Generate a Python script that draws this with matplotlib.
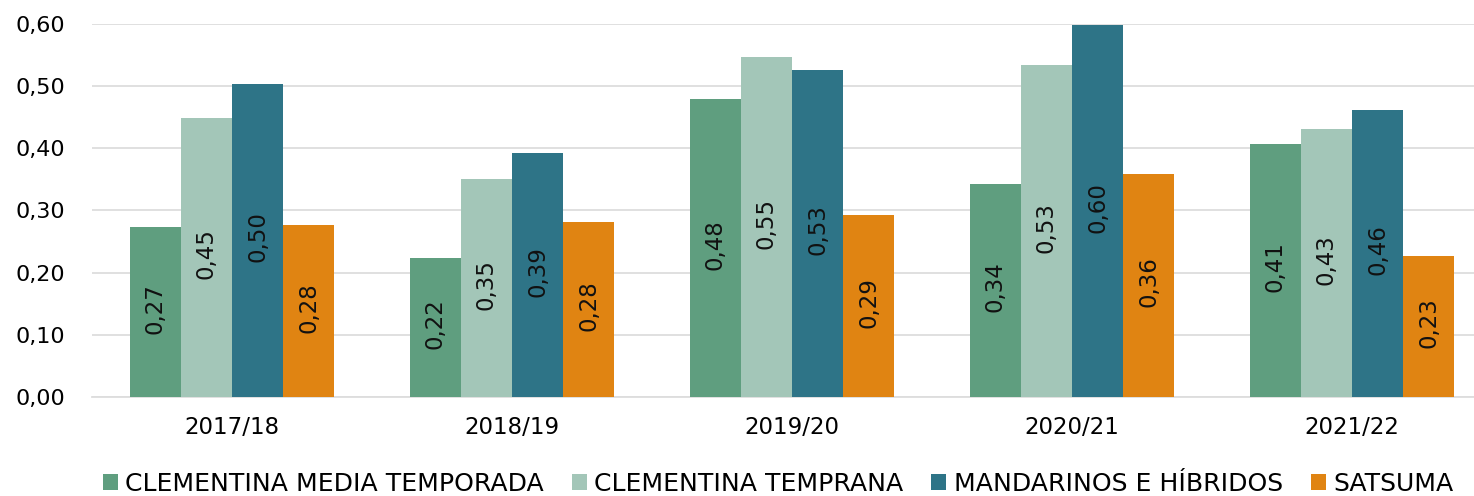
import matplotlib
matplotlib.use("Agg")
import matplotlib.pyplot as plt
import numpy as np

categories = ["2017/18", "2018/19", "2019/20", "2020/21", "2021/22"]
series_names = ["CLEMENTINA MEDIA TEMPORADA", "CLEMENTINA TEMPRANA",
                "MANDARINOS E HÍBRIDOS", "SATSUMA"]
clementina_media = [0.273, 0.223, 0.479, 0.343, 0.407]
clementina_temprana = [0.449, 0.351, 0.547, 0.534, 0.431]
mandarinos = [0.503, 0.392, 0.526, 0.598, 0.462]
satsuma = [0.277, 0.282, 0.292, 0.358, 0.227]
colors = ["#5F9E7F", "#A3C6B8", "#2E7487", "#E08412"]
yticks = [0.0, 0.1, 0.2, 0.3, 0.4, 0.5, 0.6]

plt.rcParams['font.family'] = ['DejaVu Sans']

fig = plt.figure(figsize=(14.74, 4.96), dpi=100)
W, H = 1474, 496
left, right = 92, 1474
top, bottom = 24, 397
ax = fig.add_axes([left / W, 1 - bottom / H, (right - left) / W, (bottom - top) / H])

data = [clementina_media, clementina_temprana, mandarinos, satsuma]
x = np.arange(len(categories))
bw = 0.183
for i, (vals, name, c) in enumerate(zip(data, series_names, colors)):
    pos = x + (i - 1.5) * bw
    bars = ax.bar(pos, vals, width=bw, color=c, label=name, zorder=3)
    for b, v in zip(bars, vals):
        ax.text(b.get_x() + b.get_width() / 2, v / 2 + 0.006, f"{v:.2f}".replace(".", ","),
                rotation=90, ha="center", va="center", fontsize=16.5, color="#111111", zorder=4)

ax.set_xlim(-0.5, -0.5 + (right - left) / 280)
ax.set_ylim(0, 0.6)
ax.set_yticks(yticks)
ax.set_yticklabels([f"{t:.2f}".replace(".", ",") for t in yticks], fontsize=16)
ax.set_xticks(x)
ax.set_xticklabels(categories, fontsize=16.5)
ax.grid(axis="y", color="#DDDDDD", linewidth=1.3, zorder=0)
for s in ["top", "right", "left"]:
    ax.spines[s].set_visible(False)
ax.spines["bottom"].set_color("#DDDDDD")
ax.spines["bottom"].set_linewidth(1.3)
ax.tick_params(axis="x", length=0, pad=14)
ax.tick_params(axis="y", length=0, pad=19)

leg = fig.legend(loc="center", bbox_to_anchor=(778 / W, 1 - 484 / H), ncol=4, frameon=False,
                 fontsize=18.1, handlelength=0.6, handleheight=0.6, handletextpad=0.3,
                 columnspacing=1.1, borderaxespad=0, borderpad=0)

fig.savefig("out.png", dpi=100)
